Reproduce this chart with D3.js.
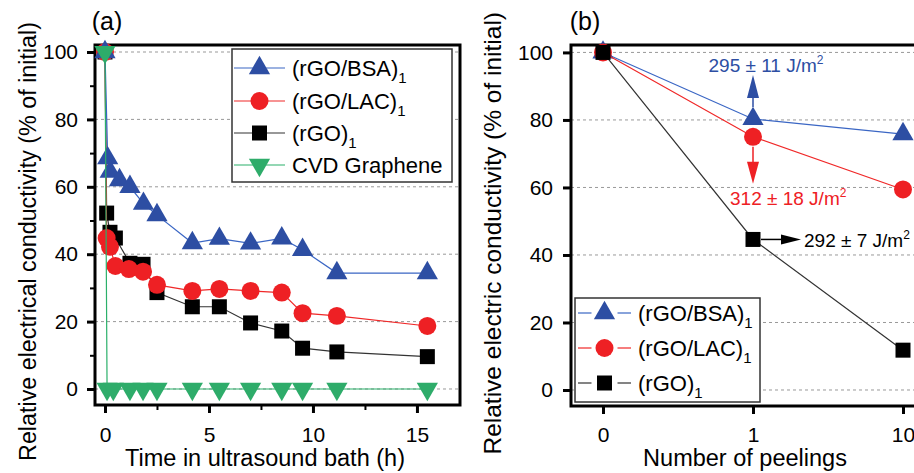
<!DOCTYPE html>
<html>
<head>
<meta charset="utf-8">
<script src="https://cdn.jsdelivr.net/npm/d3@7/dist/d3.min.js"></script>
<style>
  body { margin: 0; background: #fff; }
  svg { font-family: "Liberation Sans", Arial, sans-serif; display: block; }
</style>
</head>
<body>
<svg id="chart" width="914" height="473"></svg>
<script>
// ---- panel (a): time in ultrasound bath ----
const timeBSA = [0, 0.13, 0.25, 0.7, 1.2, 1.85, 2.5, 4.2, 5.5, 7.0, 8.5, 9.5, 11.15, 15.5];
const valBSA  = [100, 68.5, 64.5, 62, 60, 55, 51.6, 43.3, 44.6, 43.2, 44.7, 41.3, 34.4, 34.4];
const timeLAC = [0, 0.08, 0.24, 0.5, 1.15, 1.83, 2.5, 4.2, 5.5, 7.0, 8.5, 9.5, 11.15, 15.5];
const valLAC  = [100, 44.8, 42.2, 36.5, 35.6, 34.8, 30.9, 29.1, 29.7, 29.1, 28.6, 22.5, 21.7, 18.7];
const timeRGO = [0, 0.08, 0.24, 0.5, 1.2, 1.83, 2.5, 4.2, 5.5, 7.0, 8.5, 9.5, 11.15, 15.5];
const valRGO  = [100, 52.2, 46.5, 44.8, 37.3, 37.0, 28.6, 24.4, 24.4, 19.6, 17.2, 12.1, 11.0, 9.6];
const timeCVD = [0, 0.1, 0.4, 1.2, 1.83, 2.5, 4.2, 5.5, 7.0, 8.5, 9.5, 11.15, 15.5];
const valCVD  = [100, 0, 0, 0, 0, 0, 0, 0, 0, 0, 0, 0, 0];

// ---- panel (b): number of peelings ----
const peelCats = ["0", "1", "10"];
const peelBSA = [100, 80.3, 75.8];
const peelLAC = [100, 75.0, 59.4];
const peelRGO = [100, 44.6, 11.8];
const energyText = ["295 ± 11 J/m", "312 ± 18 J/m", "292 ± 7 J/m"];

// ---- ticks ----
const yTicks = [0, 20, 40, 60, 80, 100];
const yMinor = [10, 30, 50, 70, 90];
const xTicksA = [0, 5, 10, 15];
const xMinorA = [2.5, 7.5, 12.5];

const blue = {line: "#3a66c4", fill: "#2d4ea3"};
const red = {line: "#f02828", fill: "#ee2024"};
const black = {line: "#333", fill: "#000"};
const green = {line: "#2bb06a", fill: "#2eac6a"};

const svg = d3.select("#chart");

const sym = {
  up: d3.symbol().type(d3.symbolTriangle).size(195)(),
  down: d3.symbol().type(d3.symbolTriangle).size(195)(),
  circle: d3.symbol().type(d3.symbolCircle).size(254)(),
  square: d3.symbol().type(d3.symbolSquare).size(225)()
};

function drawFrame(g, x0, x1, y0, y1, yScale) {
  g.append("g").selectAll("line").data(yTicks).enter().append("line")
    .attr("x1", x0).attr("x2", x1)
    .attr("y1", d => yScale(d)).attr("y2", d => yScale(d))
    .attr("stroke", "#999").attr("stroke-width", 1).attr("stroke-dasharray", "3,3");
  g.append("rect")
    .attr("x", x0).attr("y", y0).attr("width", x1 - x0).attr("height", y1 - y0)
    .attr("fill", "none").attr("stroke", "#000").attr("stroke-width", 3);
}

function styleAxis(a, w, fs) {
  a.select(".domain").remove();
  a.selectAll(".tick line").attr("stroke", "#000").attr("stroke-width", w);
  a.selectAll(".tick text").attr("fill", "#000").style("font-size", fs + "px");
}

function drawSeries(g, pts, col, shape, rot, xf, yf) {
  g.append("path").datum(pts)
    .attr("d", d3.line().x(d => xf(d[0])).y(d => yf(d[1])))
    .attr("fill", "none").attr("stroke", col.line).attr("stroke-width", 1.2);
  g.append("g").selectAll("path").data(pts).enter().append("path")
    .attr("d", sym[shape])
    .attr("transform", d => "translate(" + xf(d[0]) + "," + yf(d[1]) + ")" + (rot ? " rotate(180)" : ""))
    .attr("fill", col.fill);
}

function legendEntry(g, x, y, lineLen, col, shape, rot, label, gap) {
  if (gap) {
    g.append("line").attr("x1", x).attr("x2", x + lineLen / 2 - 13).attr("y1", y).attr("y2", y)
      .attr("stroke", col.line).attr("stroke-width", 1.2);
    g.append("line").attr("x1", x + lineLen / 2 + 13).attr("x2", x + lineLen).attr("y1", y).attr("y2", y)
      .attr("stroke", col.line).attr("stroke-width", 1.2);
  } else {
    g.append("line").attr("x1", x).attr("x2", x + lineLen).attr("y1", y).attr("y2", y)
      .attr("stroke", col.line).attr("stroke-width", 1.2);
  }
  g.append("path").attr("d", sym[shape])
    .attr("transform", "translate(" + (x + lineLen / 2) + "," + y + ")" + (rot ? " rotate(180)" : ""))
    .attr("fill", col.fill);
  const t = g.append("text").attr("x", x + lineLen + 7).attr("y", y + 8).style("font-size", "22px");
  t.append("tspan").text(label[0]);
  if (label[1]) t.append("tspan").attr("dy", 7).style("font-size", "15px").text(label[1]);
}

// ================= panel (a) =================
const xA = d3.scaleLinear().domain([-0.48, 17.07]).range([95, 460]);
const yA = d3.scaleLinear().domain([-4.75, 102.08]).range([405, 45]);
const gA = svg.append("g");

drawFrame(gA, 95, 460, 45, 405, yA);

styleAxis(gA.append("g").attr("transform", "translate(95,0)")
  .call(d3.axisLeft(yA).tickValues(yMinor).tickSize(5).tickFormat("")), 2, 21);
styleAxis(gA.append("g").attr("transform", "translate(95,0)")
  .call(d3.axisLeft(yA).tickValues(yTicks).tickSize(8).tickPadding(9).tickSizeOuter(0)), 3, 21);
styleAxis(gA.append("g").attr("transform", "translate(0,405)")
  .call(d3.axisBottom(xA).tickValues(xMinorA).tickSize(5).tickFormat("")), 2, 21);
styleAxis(gA.append("g").attr("transform", "translate(0,405)")
  .call(d3.axisBottom(xA).tickValues(xTicksA).tickSize(8).tickPadding(14).tickSizeOuter(0)), 3, 21);

drawSeries(gA, d3.zip(timeRGO, valRGO), black, "square", false, xA, yA);
drawSeries(gA, d3.zip(timeLAC, valLAC), red, "circle", false, xA, yA);
drawSeries(gA, d3.zip(timeBSA, valBSA), blue, "up", false, xA, yA);
drawSeries(gA, d3.zip(timeCVD, valCVD), green, "down", true, xA, yA);

// legend (a)
const legA = gA.append("g");
legA.append("rect").attr("x", 232).attr("y", 49).attr("width", 220).attr("height", 133)
  .attr("fill", "#fff").attr("stroke", "#333").attr("stroke-width", 1.5);
legendEntry(legA, 234, 68, 51, blue, "up", false, ["(rGO/BSA)", "1"]);
legendEntry(legA, 234, 101, 51, red, "circle", false, ["(rGO/LAC)", "1"]);
legendEntry(legA, 234, 133, 51, black, "square", false, ["(rGO)", "1"]);
legendEntry(legA, 234, 165, 51, green, "down", true, ["CVD Graphene"]);

gA.append("text").attr("x", 107).attr("y", 30).attr("text-anchor", "middle")
  .style("font-size", "25px").text("(a)");
gA.append("text").attr("x", 265).attr("y", 466).attr("text-anchor", "middle")
  .style("font-size", "23.5px").text("Time in ultrasound bath (h)");
gA.append("text").attr("transform", "translate(36,22) rotate(-90)").attr("text-anchor", "end")
  .style("font-size", "23.3px").text("Relative electrical conductivity (% of initial)");

// ================= panel (b) =================
const xB = d3.scalePoint().domain(peelCats).range([603, 903]);
const yB = d3.scaleLinear().domain([-4.74, 102.2]).range([406, 45]);
const gB = svg.append("g");

drawFrame(gB, 571, 936, 45, 406, yB);

styleAxis(gB.append("g").attr("transform", "translate(571,0)")
  .call(d3.axisLeft(yB).tickValues(yTicks).tickSize(8).tickPadding(10).tickSizeOuter(0)), 3, 21);
styleAxis(gB.append("g").attr("transform", "translate(0,406)")
  .call(d3.axisBottom(xB).tickSize(8).tickPadding(13).tickSizeOuter(0)), 3, 21);

drawSeries(gB, d3.zip(peelCats, peelBSA), blue, "up", false, xB, yB);
drawSeries(gB, d3.zip(peelCats, peelLAC), red, "circle", false, xB, yB);
drawSeries(gB, d3.zip(peelCats, peelRGO), black, "square", false, xB, yB);

// energy annotations with arrows
function energyLabel(g, x, y, txt, col, anchor) {
  const t = g.append("text").attr("x", x).attr("y", y).attr("text-anchor", anchor)
    .attr("fill", col).style("font-size", "19px");
  t.append("tspan").text(txt);
  t.append("tspan").attr("dy", -8).style("font-size", "12px").text("2");
}
const px = xB("1");
const pyB = yB(peelBSA[1]), pyL = yB(peelLAC[1]), pyR = yB(peelRGO[1]);
const ann = gB.append("g");
ann.append("line").attr("x1", px).attr("x2", px).attr("y1", pyB - 12).attr("y2", pyB - 22)
  .attr("stroke", blue.fill).attr("stroke-width", 1.5);
ann.append("path").attr("d", d3.line()([[px - 6, pyB - 21], [px + 6, pyB - 21], [px, pyB - 44]]) + "Z")
  .attr("fill", blue.fill);
energyLabel(ann, px + 13, pyB - 47, energyText[0], blue.fill, "middle");

ann.append("line").attr("x1", px).attr("x2", px).attr("y1", pyL + 10).attr("y2", pyL + 26)
  .attr("stroke", red.fill).attr("stroke-width", 1.5);
ann.append("path").attr("d", d3.line()([[px - 6, pyL + 25], [px + 6, pyL + 25], [px, pyL + 47]]) + "Z")
  .attr("fill", red.fill);
energyLabel(ann, px - 23, pyL + 68, energyText[1], red.fill, "start");

ann.append("line").attr("x1", px + 8).attr("x2", px + 29).attr("y1", pyR).attr("y2", pyR)
  .attr("stroke", "#000").attr("stroke-width", 1.5);
ann.append("path").attr("d", d3.line()([[px + 28, pyR - 5], [px + 28, pyR + 5], [px + 48, pyR]]) + "Z")
  .attr("fill", "#000");
energyLabel(ann, px + 51, pyR + 8, energyText[2], "#000", "start");

// legend (b)
const legB = gB.append("g");
legB.append("rect").attr("x", 575).attr("y", 298).attr("width", 185).attr("height", 104)
  .attr("fill", "#fff").attr("stroke", "#333").attr("stroke-width", 1.5);
legendEntry(legB, 578, 313, 53, blue, "up", false, ["(rGO/BSA)", "1"], true);
legendEntry(legB, 578, 348, 53, red, "circle", false, ["(rGO/LAC)", "1"], true);
legendEntry(legB, 578, 383, 53, black, "square", false, ["(rGO)", "1"], true);

gB.append("text").attr("x", 585).attr("y", 30).attr("text-anchor", "middle")
  .style("font-size", "25px").text("(b)");
gB.append("text").attr("x", 745).attr("y", 466).attr("text-anchor", "middle")
  .style("font-size", "23.5px").text("Number of peelings");
gB.append("text").attr("transform", "translate(501,12) rotate(-90)").attr("text-anchor", "end")
  .style("font-size", "24.5px").text("Relative electric conductivity (% of initial)");
</script>
</body>
</html>
